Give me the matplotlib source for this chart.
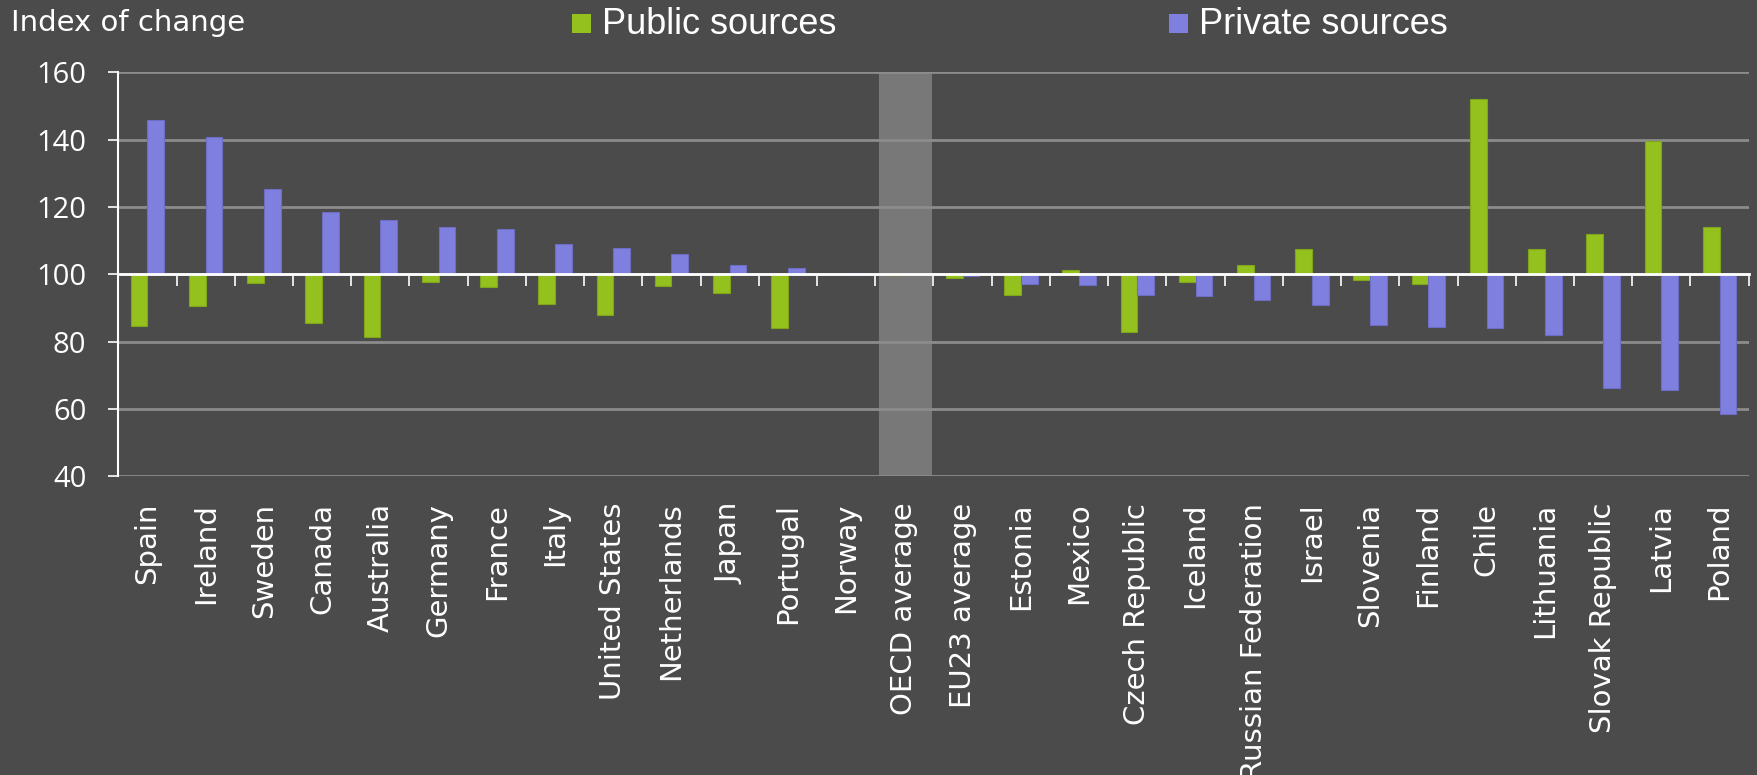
import numpy as np
import matplotlib
matplotlib.use("Agg")
import matplotlib.pyplot as plt
from matplotlib.patches import Rectangle

# Index of change in expenditure (base = 100)
countries = ["Spain", "Ireland", "Sweden", "Canada", "Australia", "Germany", "France",
             "Italy", "United States", "Netherlands", "Japan", "Portugal", "Norway",
             "OECD average", "EU23 average", "Estonia", "Mexico", "Czech Republic",
             "Iceland", "Russian Federation", "Israel", "Slovenia", "Finland", "Chile",
             "Lithuania", "Slovak Republic", "Latvia", "Poland"]
public_sources = [84.7, 90.6, 97.3, 85.5, 81.4, 97.7, 96.2, 91.3, 88.0, 96.4, 94.4, 84.2, 100.0,
                  99.8, 99.0, 94.0, 101.4, 82.9, 97.8, 102.7, 107.6, 98.3, 97.0, 152.2,
                  107.6, 112.1, 139.6, 114.2]
private_sources = [145.9, 140.7, 125.3, 118.6, 116.1, 114.1, 113.5, 109.1, 107.8, 106.1, 102.9, 101.8, 100.5,
                   100.1, 99.4, 97.0, 96.7, 94.0, 93.6, 92.4, 90.9, 85.0, 84.3, 84.0,
                   82.0, 66.3, 65.6, 58.6]
highlight = "OECD average"

bg = "#4b4b4b"
green = "#95c11f"
blue = "#7f7fe0"

fig = plt.figure(figsize=(17.58, 7.75), dpi=100, facecolor=bg)
ax = fig.add_axes([0.0673, 0.3854, 0.9274, 0.5213])
ax.set_facecolor(bg)

x = np.arange(len(countries))
w = 0.287
base = 100
pub = np.array(public_sources) - base
priv = np.array(private_sources) - base

hi = countries.index(highlight)
ax.axvspan(hi - 0.44, hi + 0.47, color="#787878", zorder=0.2, lw=0)

ax.bar(x - w / 2, pub, w, bottom=base, color=green, edgecolor="#7fa51a", linewidth=0.8, zorder=2)
ax.bar(x + w / 2, priv, w, bottom=base, color=blue, edgecolor="#6d6dc4", linewidth=0.8, zorder=2)

ax.set_xlim(-0.5, len(countries) - 0.5)
ax.set_ylim(40, 160)
ax.set_yticks(np.arange(40, 161, 20))
ax.set_axisbelow(True)
ax.yaxis.grid(True, color="#8c8c8c", linewidth=2)

for s in ["top", "right"]:
    ax.spines[s].set_visible(False)
ax.spines["left"].set_color("white")
ax.spines["left"].set_linewidth(1.5)
ax.spines["bottom"].set_position(("data", base))
ax.spines["bottom"].set_color("white")
ax.spines["bottom"].set_linewidth(2)
ax.spines["bottom"].set_zorder(3)

ax.set_xticks(np.arange(len(countries) + 1) - 0.5)
ax.set_xticklabels([])
ax.tick_params(axis="x", direction="out", length=8.5, width=1.2, color="white")
ax.tick_params(axis="y", direction="out", length=7.5, width=1.2, color="white",
               labelcolor="white", labelsize=21, pad=15.5)
for lab in ax.get_yticklabels():
    lab.set_family("Open Sans")

# country names hang below the plot area
for i, name in enumerate(countries):
    ax.annotate(name, xy=(i, 0), xycoords=("data", "axes fraction"),
                xytext=(0, -19), textcoords="offset points",
                rotation=90, ha="center", va="top", color="white",
                fontsize=21, family="DejaVu Sans")

fig.text(0.0064, 0.9595, "Index of change", color="white", fontsize=21,
         family="DejaVu Sans", va="baseline", ha="left")

# legend drawn as plain squares and text
for x0, label, col in [(572, "Public sources", green), (1169, "Private sources", blue)]:
    fig.add_artist(Rectangle((x0 / 1758, 1 - 33.3 / 775), 19 / 1758, 19.3 / 775,
                             transform=fig.transFigure, color=col, lw=0))
    fig.text((x0 + 30) / 1758, 1 - 34.3 / 775, label, color="white", fontsize=26,
             family="Liberation Sans", va="baseline", ha="left")

fig.savefig("out.png", dpi=100, facecolor=bg)
